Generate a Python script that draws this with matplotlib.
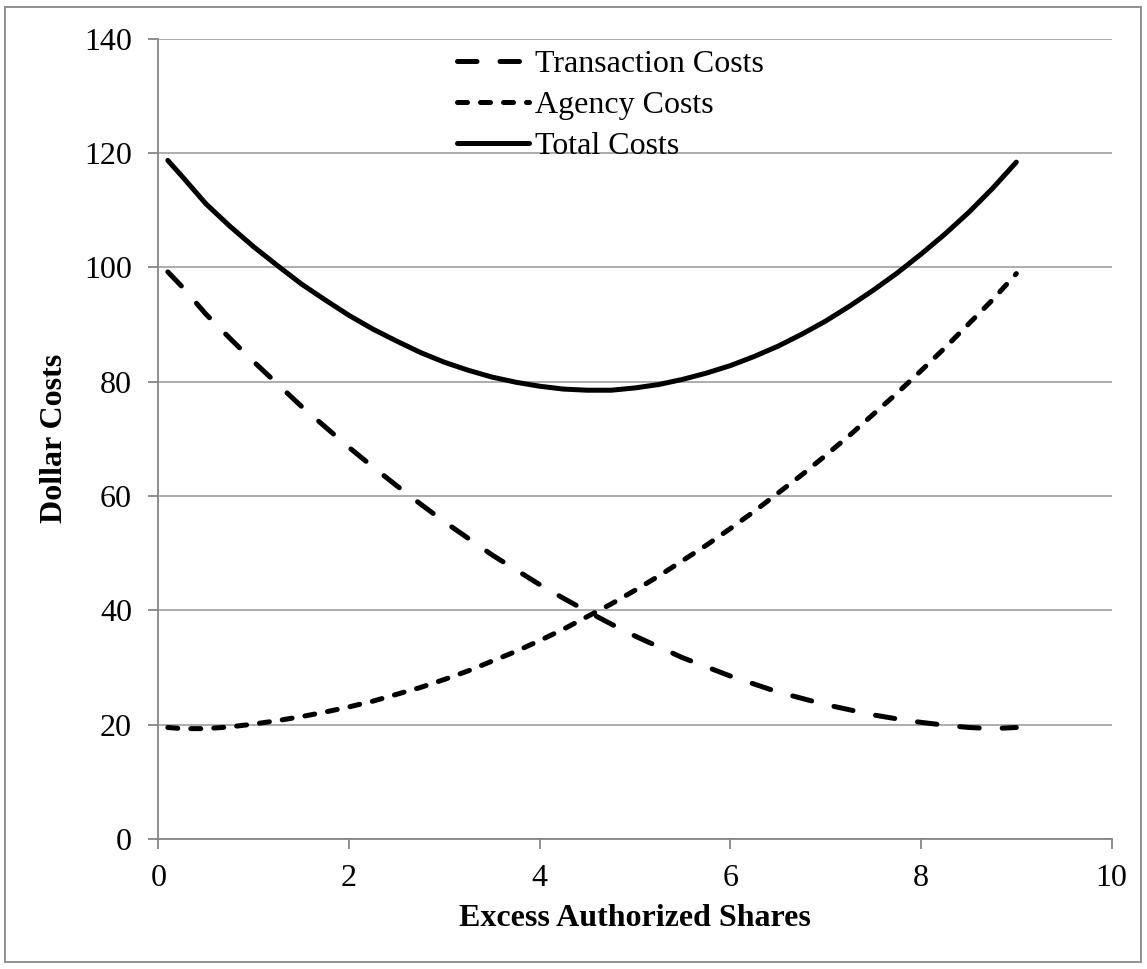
import matplotlib

matplotlib.use("Agg")
import matplotlib.pyplot as plt
from matplotlib.patches import Rectangle


# values
excess_shares = [0.1, 0.25, 0.5, 0.75, 1.0, 1.25, 1.5, 1.75, 2.0, 2.25, 2.5, 2.75,
                 3.0, 3.25, 3.5, 3.75, 4.0, 4.25, 4.5, 4.75, 5.0, 5.25, 5.5, 5.75,
                 6.0, 6.25, 6.5, 6.75, 7.0, 7.25, 7.5, 7.75, 8.0, 8.25, 8.5, 8.75, 9.0]
transaction_costs = [99.2, 96.6, 91.8, 87.6, 83.5, 79.6, 75.7, 72.1, 68.5, 65.1, 61.8, 58.6,
                     55.5, 52.6, 49.7, 47.1, 44.5, 42.1, 39.8, 37.6, 35.5, 33.6, 31.7, 30.1,
                     28.5, 27.1, 25.7, 24.6, 23.5, 22.6, 21.7, 21.0, 20.4, 19.9, 19.5, 19.3, 19.5]
agency_costs = [19.5, 19.3, 19.3, 19.6, 20.1, 20.7, 21.4, 22.2, 23.1, 24.1, 25.3, 26.5,
                27.9, 29.4, 31.1, 32.8, 34.7, 36.7, 38.9, 41.1, 43.5, 46.0, 48.7, 51.4,
                54.3, 57.3, 60.5, 63.7, 67.1, 70.6, 74.3, 78.0, 81.9, 85.9, 90.1, 94.3, 98.9]
total_costs = [118.7, 115.9, 111.1, 107.2, 103.6, 100.3, 97.1, 94.3, 91.6, 89.2, 87.1, 85.1,
               83.4, 82.0, 80.8, 79.9, 79.2, 78.7, 78.5, 78.5, 78.9, 79.5, 80.4, 81.5,
               82.8, 84.4, 86.2, 88.3, 90.6, 93.2, 96.0, 99.0, 102.3, 105.8, 109.6, 113.8, 118.4]

x_ticks = [0, 2, 4, 6, 8, 10]
y_ticks = [0, 20, 40, 60, 80, 100, 120, 140]

GRID_GRAY = "#a6a6a6"
AXIS_GRAY = "#868686"
LW = 3.6
FS = 23

plt.rcParams.update(
    {
        "font.family": "serif",
        "font.serif": ["Liberation Serif", "DejaVu Serif"],
        "font.size": FS,
    }
)

fig = plt.figure(figsize=(11.47, 9.69), dpi=100)
ax = fig.add_axes([0.138, 0.1342, 0.8312, 0.8259])

ax.plot(excess_shares, transaction_costs, color="black", lw=LW,
        dashes=(3.9, 4.6), dash_capstyle="round", solid_capstyle="round",
        solid_joinstyle="round", label="Transaction Costs")
ax.plot(excess_shares, agency_costs, color="black", lw=LW,
        dashes=(2.0, 2.6), dash_capstyle="round", solid_capstyle="round",
        solid_joinstyle="round", label="Agency Costs")
ax.plot(excess_shares, total_costs, color="black", lw=LW,
        solid_capstyle="round", solid_joinstyle="round", label="Total Costs")

ax.set_xlim(0, 10)
ax.set_ylim(0, 140)
ax.set_xticks(x_ticks)
ax.set_yticks(y_ticks)
ax.yaxis.grid(True, color=GRID_GRAY, lw=1.3)
ax.set_axisbelow(True)

for side in ("top", "right"):
    ax.spines[side].set_visible(False)
for side in ("left", "bottom"):
    ax.spines[side].set_color(AXIS_GRAY)
    ax.spines[side].set_linewidth(1.3)
ax.tick_params(axis="both", direction="out", length=7, width=1.3,
               color=AXIS_GRAY, labelsize=FS)
ax.tick_params(axis="y", pad=12)
ax.tick_params(axis="x", pad=11)

ax.set_xlabel("Excess Authorized Shares", fontweight="bold", fontsize=FS,
              labelpad=8)
ax.set_ylabel("Dollar Costs", fontweight="bold", fontsize=FS, labelpad=11)

leg = ax.legend(loc="upper left", bbox_to_anchor=(0.313, 0.986),
                frameon=False, fontsize=FS, handlelength=2.25,
                handletextpad=0.2, labelspacing=0.36, borderpad=0,
                borderaxespad=0)

fig.patches.append(Rectangle((5 / 1147, 1 - 962 / 969), 1136 / 1147, 955 / 969,
                             transform=fig.transFigure, fill=False,
                             edgecolor=AXIS_GRAY, lw=1.3))

fig.savefig("out.png", dpi=100)
